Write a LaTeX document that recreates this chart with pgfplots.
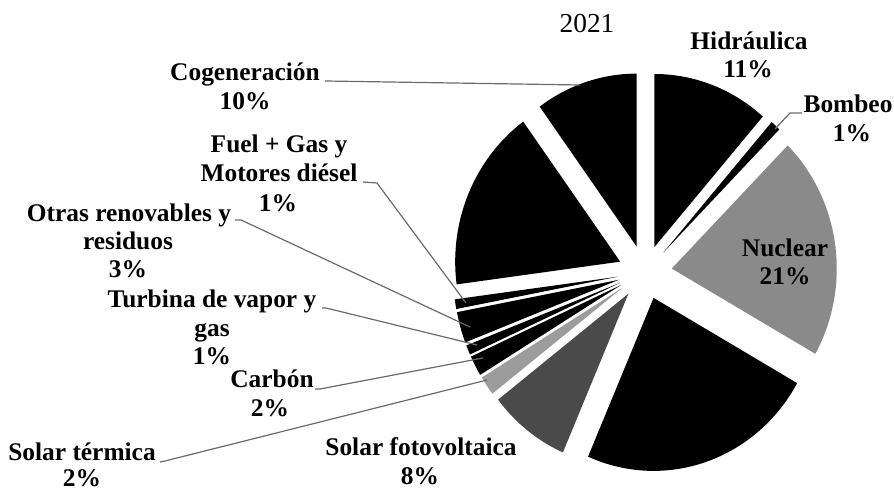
\documentclass[border=0pt]{standalone}
\usepackage{pgfplots}
\pgfplotsset{compat=1.18}
\usepackage{fontspec}
\setmainfont{Liberation Serif}
\definecolor{nuc}{HTML}{8A8A8A}
\definecolor{sfv}{HTML}{4A4A4A}
\definecolor{sterm}{HTML}{9C9C9C}
\definecolor{lead}{HTML}{6A6A6A}
\newcommand\CX{645}
\newcommand\CY{272.3}
\newcommand\RX{165}
\newcommand\RY{173}
\newcommand\EXPL{27}
\gdef\cum{0}
\newcommand\slice[2]{%
  \pgfmathsetmacro\sA{\cum}%
  \pgfmathsetmacro\sB{\cum+3.6*#1}%
  \pgfmathsetmacro\sM{(\sA+\sB)/2}%
  \pgfmathsetmacro\apx{\CX+\EXPL*sin(\sM)}%
  \pgfmathsetmacro\apy{\CY-\EXPL*cos(\sM)}%
  \xdef\cum{\sB}%
  \edef\temp{\noexpand\addplot[fill=#2, draw=none, domain=\sA:\sB, samples=90] ({\apx+\RX*sin(x)},{\apy-\RY*cos(x)}) -- (axis cs:\apx,\apy) -- cycle;}%
  \temp
}
\newcommand\lab[3]{\node[anchor=base, inner sep=0pt, font=\fontsize{12.7}{14.3}\selectfont\bfseries] at (axis cs:#1,#2) {#3};}
\begin{document}
\begin{tikzpicture}
\begin{axis}[name=ax, scale only axis, width=447pt, height=245pt,
  xmin=0, xmax=894, ymin=0, ymax=490, y dir=reverse, hide axis, clip=false]
% slices, clockwise from 12 o'clock (percent)
\slice{11.4}{black}  % Hidraulica
\slice{1.0}{black}   % Bombeo
\slice{20.8}{nuc}    % Nuclear
\slice{23.3}{black}  % Eolica
\slice{8.0}{sfv}     % Solar fotovoltaica
\slice{1.8}{sterm}   % Solar termica
\slice{1.9}{black}   % Carbon
\slice{0.9}{black}   % Turbina de vapor y gas
\slice{2.9}{black}   % Otras renovables y residuos
\slice{0.9}{black}   % Fuel + Gas y Motores diesel
\slice{17.1}{black}  % Ciclo combinado
\slice{10.0}{black}  % Cogeneracion
% leader lines
\draw[lead, line width=0.6pt] (axis cs:325,81) -- (axis cs:580,85);
\draw[lead, line width=0.6pt] (axis cs:802,113) -- (axis cs:790,113) -- (axis cs:775,129);
\draw[lead, line width=0.6pt] (axis cs:363,182) -- (axis cs:377,183) -- (axis cs:466,303);
\draw[lead, line width=0.6pt] (axis cs:235,220) -- (axis cs:241,220) -- (axis cs:470,327);
\draw[lead, line width=0.6pt] (axis cs:322,308) -- (axis cs:326,308) -- (axis cs:477,345);
\draw[lead, line width=0.6pt] (axis cs:315,389) -- (axis cs:320,389) -- (axis cs:483,358);
\draw[lead, line width=0.6pt] (axis cs:160,462) -- (axis cs:165,461) -- (axis cs:487,380);
% title
\node[anchor=base, inner sep=0pt, font=\fontsize{13.7}{16}\selectfont] at (axis cs:587,33) {2021};
% labels
\lab{749}{50}{Hidráulica}
\lab{748}{78}{11\%}
\lab{848}{113}{Bombeo}
\lab{852}{142}{1\%}
\lab{785}{257}{Nuclear}
\lab{785}{285}{21\%}
\lab{245}{81}{Cogeneración}
\lab{245}{110}{10\%}
\lab{279}{153}{Fuel + Gas y}
\lab{279}{182}{Motores diésel}
\lab{278}{212}{1\%}
\lab{129}{222}{Otras renovables y}
\lab{128}{250}{residuos}
\lab{128}{278}{3\%}
\lab{212}{308}{Turbina de vapor y}
\lab{212}{337}{gas}
\lab{212}{365}{1\%}
\lab{272}{388}{Carbón}
\lab{270}{417}{2\%}
\lab{82}{461}{Solar térmica}
\lab{82}{487}{2\%}
\lab{421}{456}{Solar fotovoltaica}
\lab{420}{485}{8\%}
\end{axis}
\pgfresetboundingbox
\path (ax.south west) rectangle (ax.north east);
\end{tikzpicture}
\end{document}
